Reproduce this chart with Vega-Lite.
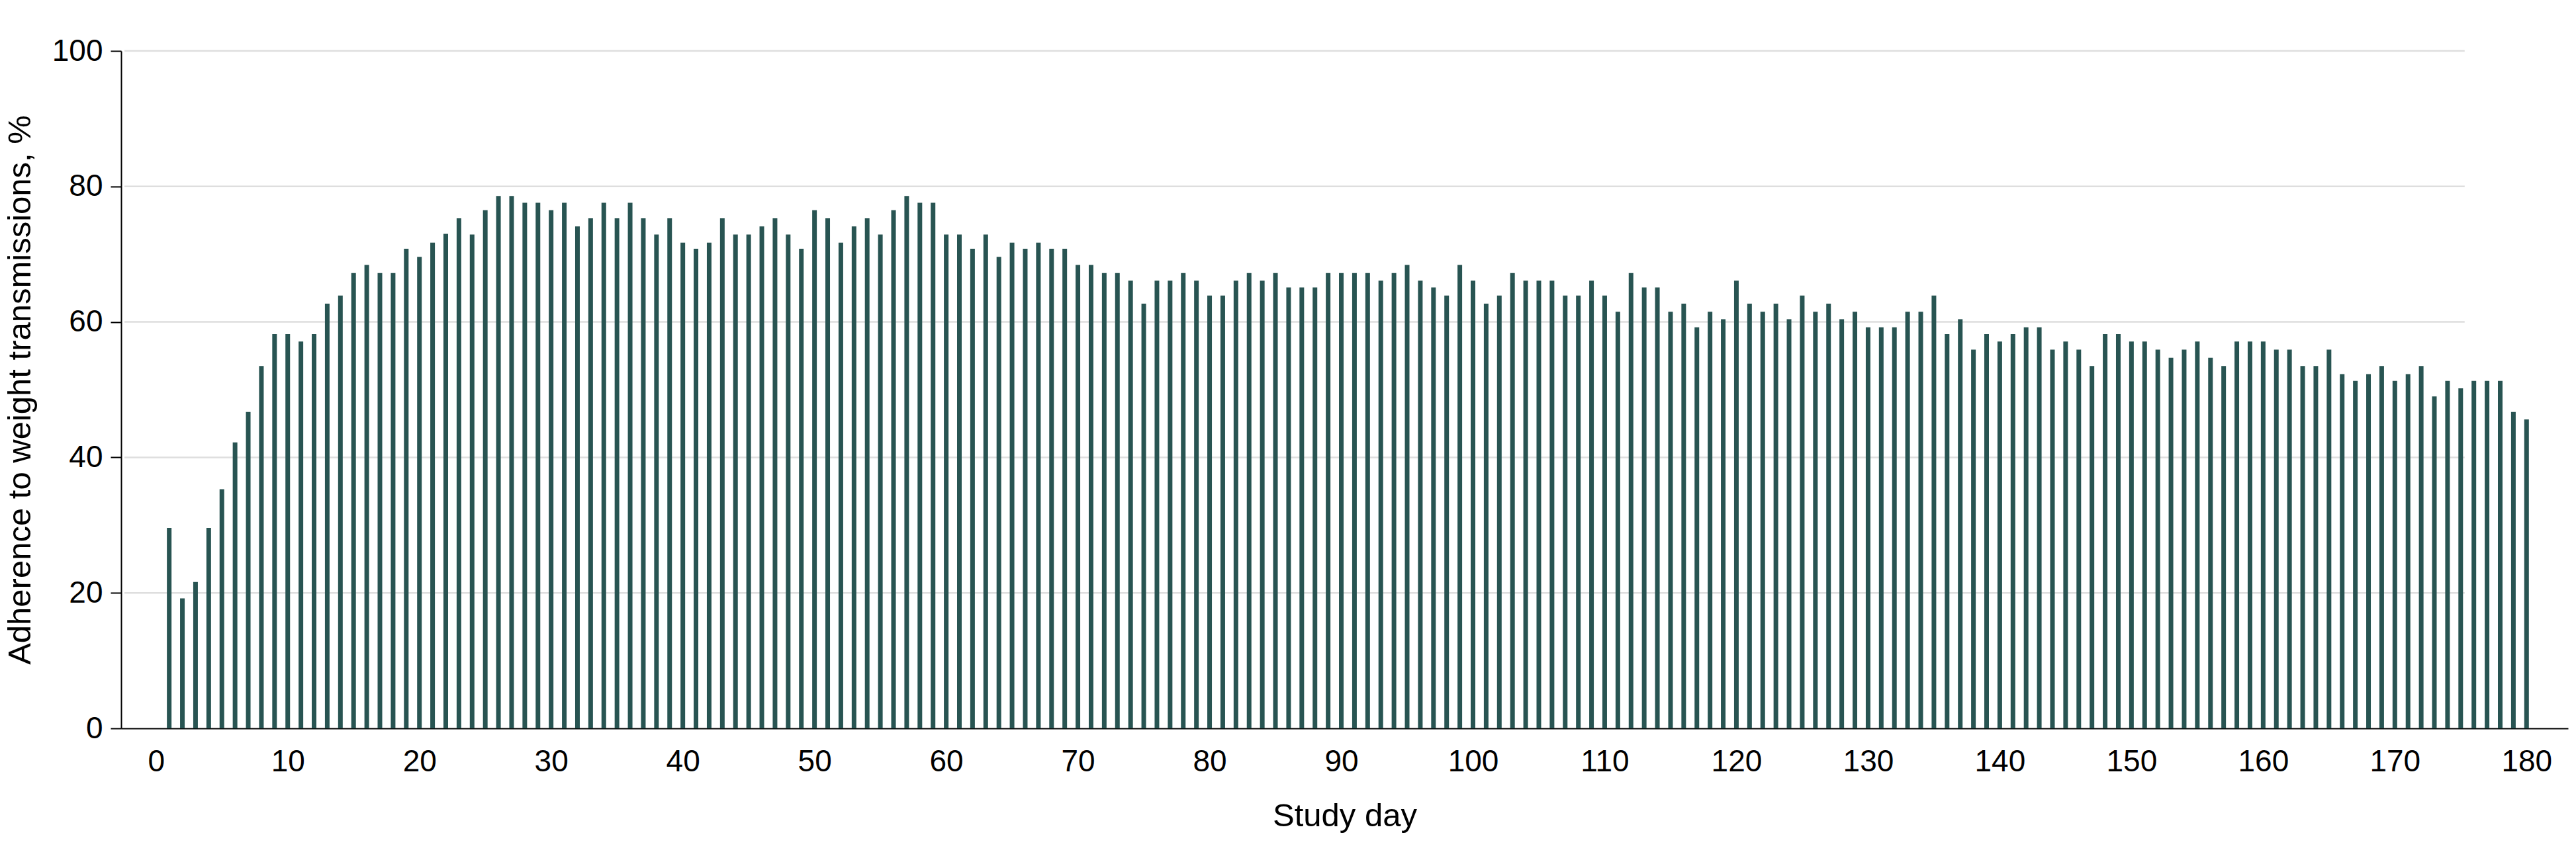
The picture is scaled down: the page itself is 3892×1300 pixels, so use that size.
{
  "$schema": "https://vega.github.io/schema/vega-lite/v6.json",
  "width": 3697,
  "height": 1024,
  "autosize": {"type": "none"},
  "padding": {"left": 183, "top": 77, "right": 12, "bottom": 199},
  "background": "white",
  "config": {
    "view": {"stroke": null},
    "font": "Liberation Sans",
    "axisX": {
      "ticks": false, "tickSize": 0, "grid": false,
      "domainColor": "black", "domainWidth": 2,
      "labelFontSize": 46, "labelColor": "black", "labelPadding": 64, "labelBaseline": "alphabetic",
      "labelFlush": false, "labelOverlap": false,
      "titleFontSize": 49, "titleFontWeight": "normal", "titleColor": "black",
      "titleY": 147, "titleBaseline": "alphabetic"
    },
    "axisY": {
      "tickSize": 16, "tickWidth": 2, "tickColor": "black", "grid": false,
      "domainColor": "black", "domainWidth": 2,
      "labelFontSize": 46, "labelColor": "black", "labelPadding": 12, "labelFlush": false,
      "titleFontSize": 49, "titleFontWeight": "normal",
      "titleColor": "black", "titleX": -138, "titleBaseline": "alphabetic"
    }
  },
  "datasets": {
    "grid": [{"g": 20}, {"g": 40}, {"g": 60}, {"g": 80}, {"g": 100}],
    "adherence": [
      {"day":1,"pct":29.6},{"day":2,"pct":19.2},{"day":3,"pct":21.6},{"day":4,"pct":29.6},{"day":5,"pct":35.3},
      {"day":6,"pct":42.2},{"day":7,"pct":46.7},{"day":8,"pct":53.5},{"day":9,"pct":58.2},{"day":10,"pct":58.2},
      {"day":11,"pct":57.1},{"day":12,"pct":58.2},{"day":13,"pct":62.7},{"day":14,"pct":63.9},{"day":15,"pct":67.2},
      {"day":16,"pct":68.4},{"day":17,"pct":67.2},{"day":18,"pct":67.2},{"day":19,"pct":70.8},{"day":20,"pct":69.6},
      {"day":21,"pct":71.7},{"day":22,"pct":73.0},{"day":23,"pct":75.3},{"day":24,"pct":72.9},{"day":25,"pct":76.5},
      {"day":26,"pct":78.6},{"day":27,"pct":78.6},{"day":28,"pct":77.6},{"day":29,"pct":77.6},{"day":30,"pct":76.5},
      {"day":31,"pct":77.6},{"day":32,"pct":74.1},{"day":33,"pct":75.3},{"day":34,"pct":77.6},{"day":35,"pct":75.3},
      {"day":36,"pct":77.6},{"day":37,"pct":75.3},{"day":38,"pct":72.9},{"day":39,"pct":75.3},{"day":40,"pct":71.7},
      {"day":41,"pct":70.8},{"day":42,"pct":71.7},{"day":43,"pct":75.3},{"day":44,"pct":72.9},{"day":45,"pct":72.9},
      {"day":46,"pct":74.1},{"day":47,"pct":75.3},{"day":48,"pct":72.9},{"day":49,"pct":70.8},{"day":50,"pct":76.5},
      {"day":51,"pct":75.3},{"day":52,"pct":71.7},{"day":53,"pct":74.1},{"day":54,"pct":75.3},{"day":55,"pct":72.9},
      {"day":56,"pct":76.5},{"day":57,"pct":78.6},{"day":58,"pct":77.6},{"day":59,"pct":77.6},{"day":60,"pct":72.9},
      {"day":61,"pct":72.9},{"day":62,"pct":70.8},{"day":63,"pct":72.9},{"day":64,"pct":69.6},{"day":65,"pct":71.7},
      {"day":66,"pct":70.8},{"day":67,"pct":71.7},{"day":68,"pct":70.8},{"day":69,"pct":70.8},{"day":70,"pct":68.4},
      {"day":71,"pct":68.4},{"day":72,"pct":67.2},{"day":73,"pct":67.2},{"day":74,"pct":66.1},{"day":75,"pct":62.7},
      {"day":76,"pct":66.1},{"day":77,"pct":66.1},{"day":78,"pct":67.2},{"day":79,"pct":66.1},{"day":80,"pct":63.9},
      {"day":81,"pct":63.9},{"day":82,"pct":66.1},{"day":83,"pct":67.2},{"day":84,"pct":66.1},{"day":85,"pct":67.2},
      {"day":86,"pct":65.1},{"day":87,"pct":65.1},{"day":88,"pct":65.1},{"day":89,"pct":67.2},{"day":90,"pct":67.2},
      {"day":91,"pct":67.2},{"day":92,"pct":67.2},{"day":93,"pct":66.1},{"day":94,"pct":67.2},{"day":95,"pct":68.4},
      {"day":96,"pct":66.1},{"day":97,"pct":65.1},{"day":98,"pct":63.9},{"day":99,"pct":68.4},{"day":100,"pct":66.1},
      {"day":101,"pct":62.7},{"day":102,"pct":63.9},{"day":103,"pct":67.2},{"day":104,"pct":66.1},{"day":105,"pct":66.1},
      {"day":106,"pct":66.1},{"day":107,"pct":63.9},{"day":108,"pct":63.9},{"day":109,"pct":66.1},{"day":110,"pct":63.9},
      {"day":111,"pct":61.5},{"day":112,"pct":67.2},{"day":113,"pct":65.1},{"day":114,"pct":65.1},{"day":115,"pct":61.5},
      {"day":116,"pct":62.7},{"day":117,"pct":59.2},{"day":118,"pct":61.5},{"day":119,"pct":60.4},{"day":120,"pct":66.1},
      {"day":121,"pct":62.7},{"day":122,"pct":61.5},{"day":123,"pct":62.7},{"day":124,"pct":60.4},{"day":125,"pct":63.9},
      {"day":126,"pct":61.5},{"day":127,"pct":62.7},{"day":128,"pct":60.4},{"day":129,"pct":61.5},{"day":130,"pct":59.2},
      {"day":131,"pct":59.2},{"day":132,"pct":59.2},{"day":133,"pct":61.5},{"day":134,"pct":61.5},{"day":135,"pct":63.9},
      {"day":136,"pct":58.2},{"day":137,"pct":60.4},{"day":138,"pct":55.9},{"day":139,"pct":58.2},{"day":140,"pct":57.1},
      {"day":141,"pct":58.2},{"day":142,"pct":59.2},{"day":143,"pct":59.2},{"day":144,"pct":55.9},{"day":145,"pct":57.1},
      {"day":146,"pct":55.9},{"day":147,"pct":53.5},{"day":148,"pct":58.2},{"day":149,"pct":58.2},{"day":150,"pct":57.1},
      {"day":151,"pct":57.1},{"day":152,"pct":55.9},{"day":153,"pct":54.7},{"day":154,"pct":55.9},{"day":155,"pct":57.1},
      {"day":156,"pct":54.7},{"day":157,"pct":53.5},{"day":158,"pct":57.1},{"day":159,"pct":57.1},{"day":160,"pct":57.1},
      {"day":161,"pct":55.9},{"day":162,"pct":55.9},{"day":163,"pct":53.5},{"day":164,"pct":53.5},{"day":165,"pct":55.9},
      {"day":166,"pct":52.3},{"day":167,"pct":51.3},{"day":168,"pct":52.3},{"day":169,"pct":53.5},{"day":170,"pct":51.3},
      {"day":171,"pct":52.3},{"day":172,"pct":53.5},{"day":173,"pct":49.0},{"day":174,"pct":51.3},{"day":175,"pct":50.2},
      {"day":176,"pct":51.3},{"day":177,"pct":51.3},{"day":178,"pct":51.3},{"day":179,"pct":46.7},{"day":180,"pct":45.6}
    ]
  },
  "layer": [
    {
      "data": {"name": "grid"},
      "mark": {"type": "rule", "color": "#dedede", "strokeWidth": 2.5},
      "encoding": {
        "y": {
          "field": "g", "type": "quantitative", "title": "Adherence to weight transmissions, %",
          "scale": {"domain": [0, 100], "nice": false},
          "axis": {"values": [0, 20, 40, 60, 80, 100]}
        },
        "x": {
          "datum": -2.4, "type": "quantitative", "title": "Study day",
          "scale": {"domain": [-2.4, 182.9], "nice": false, "zero": false},
          "axis": {"values": [0, 10, 20, 30, 40, 50, 60, 70, 80, 90, 100, 110, 120, 130, 140, 150, 160, 170, 180]}
        },
        "x2": {"datum": 175.3}
      }
    },
    {
      "data": {"name": "adherence"},
      "mark": {"type": "bar", "width": 7, "color": "#285452"},
      "encoding": {
        "x": {
          "field": "day", "type": "quantitative", "title": "Study day",
          "scale": {"domain": [-2.4, 182.9], "nice": false, "zero": false},
          "axis": {"values": [0, 10, 20, 30, 40, 50, 60, 70, 80, 90, 100, 110, 120, 130, 140, 150, 160, 170, 180]}
        },
        "y": {
          "field": "pct", "type": "quantitative", "title": "Adherence to weight transmissions, %",
          "scale": {"domain": [0, 100], "nice": false},
          "axis": {"values": [0, 20, 40, 60, 80, 100]}
        }
      }
    }
  ]
}
